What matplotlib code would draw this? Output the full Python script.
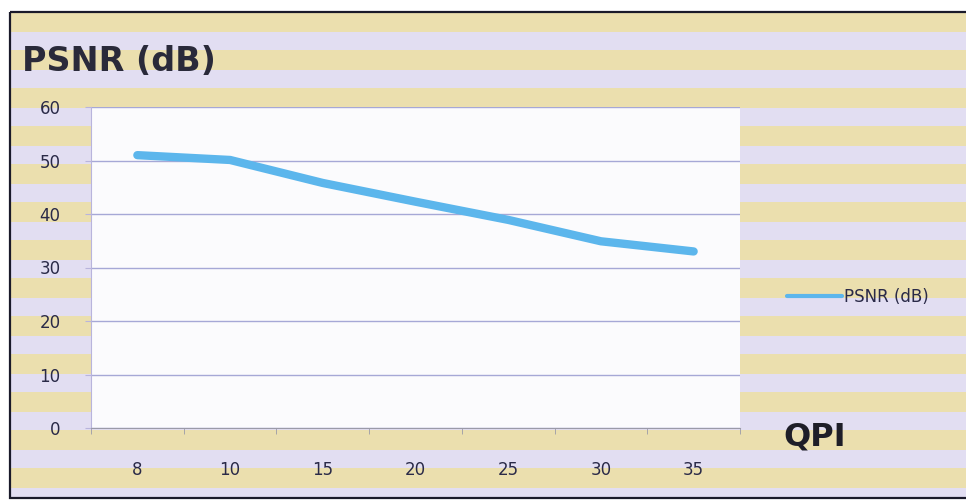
import numpy as np
import matplotlib
matplotlib.use('Agg')
import matplotlib.pyplot as plt
from matplotlib.patches import Rectangle

# PSNR vs QPI
qpi = ['8', '10', '15', '20', '25', '30', '35']
psnr = [51.0, 50.1, 45.8, 42.3, 38.9, 34.9, 33.0]
y_ticks = [0, 10, 20, 30, 40, 50, 60]

W, H = 966, 501
fig = plt.figure(figsize=(W / 100, H / 100), dpi=100)
fig.patch.set_facecolor('white')

# striped chart-area background with a dark frame
bg = fig.add_axes([0, 0, 1, 1])
bg.set_xlim(0, W); bg.set_ylim(H, 0); bg.axis('off')
tan, lav = '#ebdfae', '#e2def2'
bg.add_patch(Rectangle((10, 12), W, 486, facecolor=lav, edgecolor='none'))
y = 12
while y < 498:
    bg.add_patch(Rectangle((10, y), W, min(20, 498 - y), facecolor=tan, edgecolor='none'))
    y += 38
bg.add_patch(Rectangle((10, 12), W + 10, 486, fill=False, edgecolor='#1a1a2a', lw=1.6))

# plot area
ax = fig.add_axes([91 / W, 1 - 428 / H, 649 / W, 321 / H])
ax.set_facecolor('#fbfbfd')
x = np.arange(len(qpi))
ax.plot(x, psnr, color='#5cb6ec', lw=6, solid_capstyle='round',
        solid_joinstyle='round', label='PSNR (dB)', zorder=3)
ax.set_xlim(-0.5, len(qpi) - 0.5)
ax.set_ylim(0, 60)
ax.set_yticks(y_ticks)
ax.set_yticklabels([str(v) for v in y_ticks])
ax.set_xticks(x)
ax.set_xticklabels(qpi)
ax.set_xticks(np.arange(-0.5, len(qpi)), minor=True)
ax.grid(axis='y', color='#a6a8d6', lw=1)
ax.set_axisbelow(True)
for s in ['top', 'right']:
    ax.spines[s].set_visible(False)
ax.spines['left'].set_color('#b8b4dc')
ax.spines['bottom'].set_color('#9a9aa8')
ax.tick_params(axis='y', length=4, pad=18, colors='#b8b4dc', labelcolor='#2a2a48', labelsize=12)
ax.tick_params(axis='x', which='major', length=0, pad=24, labelcolor='#2a2a48', labelsize=12)
ax.tick_params(axis='x', which='minor', length=4, color='#9a9aa8')

fig.text(22 / W, 1 - 62 / H, 'PSNR (dB)', fontsize=24, fontweight='bold',
         color='#2a2a3a', va='center', ha='left')
fig.text(783 / W, 1 - 437 / H, 'QPI', fontsize=23, fontweight='heavy',
         color='#1e1e28', va='center', ha='left')

fig.legend(loc='center left', bbox_to_anchor=(772 / W, 1 - 297 / H), frameon=False,
           handlelength=3.3, handletextpad=0.15,
           labelcolor='#2a2a48', prop={'size': 12})
leg = fig.legends[0]
for h in leg.legend_handles:
    h.set_linewidth(3)

fig.savefig('out.png', dpi=100)
